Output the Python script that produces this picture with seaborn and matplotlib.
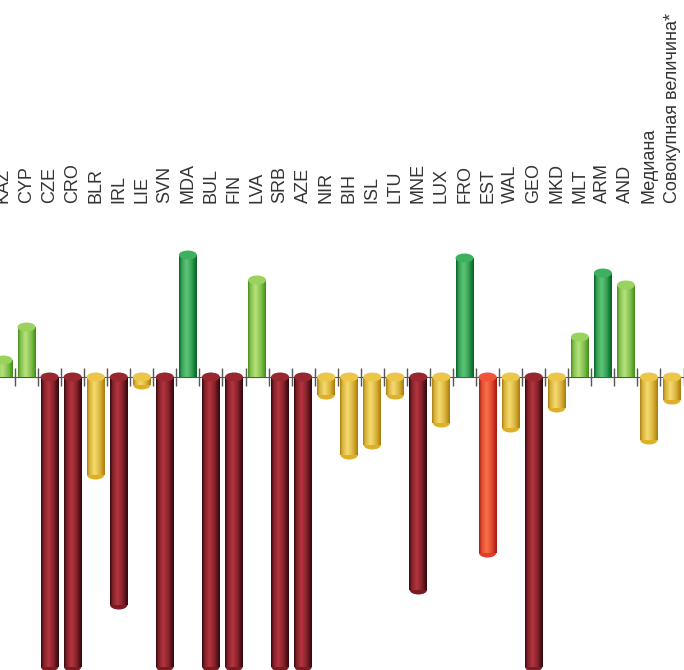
import numpy as np
import matplotlib
matplotlib.use("Agg")
import matplotlib.pyplot as plt
from matplotlib.colors import to_rgb
from matplotlib.patches import Ellipse
import seaborn as sns

# ── data ─────────────────────────────────────────────────────────────────────
countries = ["KAZ", "CYP", "CZE", "CRO", "BLR", "IRL", "LIE", "SVN", "MDA", "BUL",
             "FIN", "LVA", "SRB", "AZE", "NIR", "BIH", "ISL", "LTU", "MNE", "LUX",
             "FRO", "EST", "WAL", "GEO", "MKD", "MLT", "ARM", "AND",
             "Медиана", "Совокупная величина*"]
values = [17, 50, -290, -290, -98, -228, -8, -290, 122, -290,
          -290, 97, -290, -290, -18, -78, -68, -18, -213, -46,
          119, -176, -51, -290, -31, 40, 104, 92,
          -63, -23]
groups = ["lgreen", "lgreen", "dred", "dred", "yellow", "dred", "yellow", "dred", "green", "dred",
          "dred", "lgreen", "dred", "dred", "yellow", "yellow", "yellow", "yellow", "dred", "yellow",
          "green", "red", "yellow", "dred", "yellow", "lgreen", "green", "lgreen",
          "yellow", "yellow"]

# (edge, base, highlight)
SHADES = {
    "dred":   ("#2e0a0d", "#7a1a22", "#b8343e"),
    "red":    ("#a01c12", "#e33a2a", "#ff7048"),
    "yellow": ("#a57c14", "#deb028", "#f8dc6a"),
    "green":  ("#0b5e26", "#1f9a48", "#5cc878"),
    "lgreen": ("#3f8a1c", "#7cc242", "#b6e47a"),
}

sns.set_style("white")
plt.rcParams["font.family"] = ["Liberation Sans", "DejaVu Sans"]

fig = plt.figure(figsize=(6.84, 6.70), dpi=100)
ax = fig.add_axes([0, 0, 1, 0.697])

palette = {c: SHADES[g][1] for c, g in zip(countries, groups)}
sns.barplot(x=countries, y=values, hue=countries, palette=palette, legend=False,
            width=0.78, saturation=1, ax=ax)

XL = (-0.15, 29.52)
YL = (-293, 174)
CAP = 9  # cap ellipse height, data units (~px)

# cylinder shading on each bar
t = np.linspace(0, 1, 64)
prof = np.interp(t, [0, 0.12, 0.42, 0.75, 1], [0, 0.55, 1.0, 0.55, 0])
for p, g in zip(ax.patches, groups):
    edge, base, hi = [np.array(to_rgb(c)) for c in SHADES[g]]
    cols = np.empty((1, 64, 3))
    for k, v in enumerate(prof):
        cols[0, k] = edge + (hi - edge) * v if v > 0.55 else edge + (base - edge) * (v / 0.55)
    x0, y0 = p.get_x(), p.get_y()
    w, h = p.get_width(), p.get_height()
    lo, up = min(y0, y0 + h), max(y0, y0 + h)
    ax.imshow(cols, extent=[x0, x0 + w, lo, up], aspect="auto", zorder=3,
              interpolation="bicubic")
    cx = x0 + w / 2
    if h > 0:
        # rounded top face
        ax.add_patch(Ellipse((cx, up), w, CAP, color=(base + hi) / 2, zorder=3.5, lw=0))
    else:
        # rounded bottom end behind the body, face at baseline
        ax.add_patch(Ellipse((cx, lo), w * 0.96, CAP, color=base, zorder=2.5, lw=0))
        ax.add_patch(Ellipse((cx, up), w, CAP, color=(base + hi) / 2, zorder=3.5, lw=0))
    p.set_visible(False)

# baseline with small separators between bars
ax.axhline(0, color="#555555", lw=0.8, zorder=2)
ax.vlines(np.arange(len(countries)) + 0.5, -9, 9, color="#555555", lw=1.0, zorder=4)

ax.set_xlim(*XL)
ax.set_ylim(*YL)
ax.xaxis.tick_top()
ax.set_xticks(range(len(countries)))
ax.set_xticklabels(countries, rotation=90, fontsize=13, color="#333333")
ax.tick_params(axis="x", length=0, pad=0)
ax.set_yticks([])
ax.set_xlabel("")
for s in ax.spines.values():
    s.set_visible(False)

plt.savefig("out.png", dpi=100)
plt.close()
